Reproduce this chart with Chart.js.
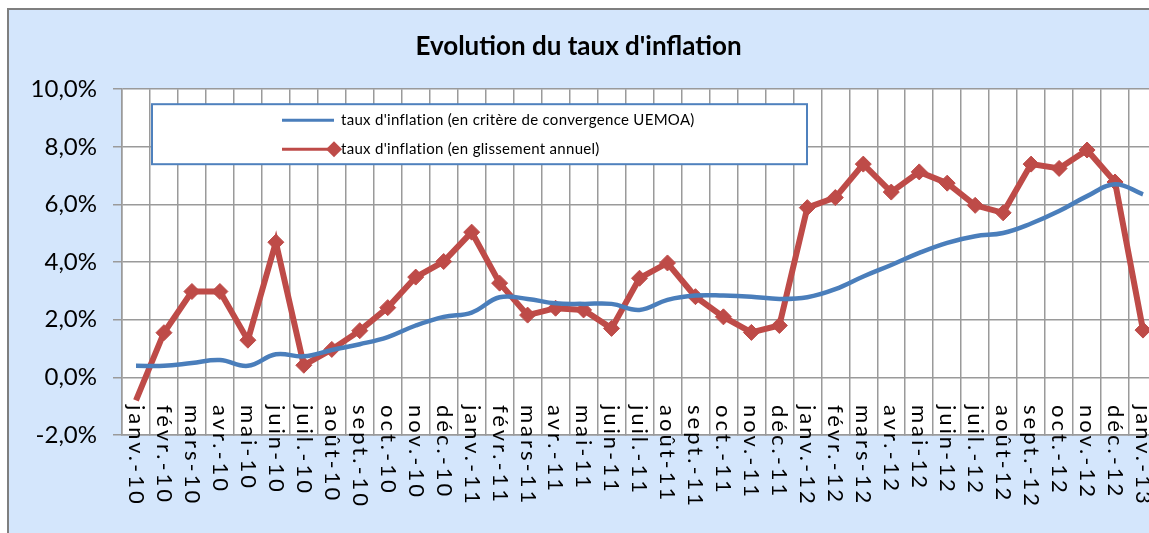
<!DOCTYPE html>
<html>
<head>
<meta charset="utf-8">
<script src="https://cdn.jsdelivr.net/npm/chart.js@4"></script>
<style>
  html, body { margin: 0; padding: 0; background: #fff; overflow: hidden; }
  #frame {
    position: absolute; left: 7px; top: 8px; width: 1200px; height: 600px;
    background: #d4e6fc; border-left: 2px solid #7f7f7f; border-top: 2px solid #7f7f7f;
  }
  #wrap { position: absolute; left: 0; top: 0; width: 1170px; height: 533px; }
</style>
</head>
<body>
<div id="frame"></div>
<div id="wrap"><canvas id="inflationChart"></canvas></div>
<script>
// categories: monthly, Jan 2010 to Jan 2013
const months = [
    'janv.-10', 'févr.-10', 'mars-10', 'avr.-10', 'mai-10', 'juin-10', 'juil.-10', 'août-10', 'sept.-10', 'oct.-10', 'nov.-10', 'déc.-10',
    'janv.-11', 'févr.-11', 'mars-11', 'avr.-11', 'mai-11', 'juin-11', 'juil.-11', 'août-11', 'sept.-11', 'oct.-11', 'nov.-11', 'déc.-11',
    'janv.-12', 'févr.-12', 'mars-12', 'avr.-12', 'mai-12', 'juin-12', 'juil.-12', 'août-12', 'sept.-12', 'oct.-12', 'nov.-12', 'déc.-12',
    'janv.-13'
];

// taux d'inflation (en critère de convergence UEMOA), %
const convergence = [
    0.4, 0.4, 0.5, 0.6, 0.4, 0.8, 0.73, 0.95, 1.15, 1.4, 1.8, 2.1,
    2.25, 2.78, 2.72, 2.57, 2.55, 2.55, 2.34, 2.69, 2.84, 2.84, 2.8, 2.72,
    2.78, 3.06, 3.5, 3.9, 4.32, 4.67, 4.9, 5.01, 5.34, 5.77, 6.29, 6.7,
    6.35
];

// taux d'inflation (en glissement annuel), %
const glissement = [
    -0.8, 1.55, 2.98, 2.98, 1.29, 4.69, 0.42, 0.97, 1.62, 2.42, 3.48, 4.02,
    5.04, 3.27, 2.16, 2.4, 2.34, 1.7, 3.44, 3.97, 2.8, 2.1, 1.56, 1.8,
    5.89, 6.24, 7.4, 6.43, 7.13, 6.74, 5.97, 5.71, 7.4, 7.25, 7.89, 6.78,
    1.64
];

const yMin = -2;
const yMax = 10;
const yStep = 2;

const FONT = 'Lato, "Open Sans", sans-serif';

function formatPct(v) {
    return v.toFixed(1).replace('.', ',') + '%';
}

// white plot area
const plotBackground = {
    id: 'plotBackground',
    beforeDraw(chart) {
        const { ctx, chartArea } = chart;
        ctx.save();
        ctx.fillStyle = '#ffffff';
        ctx.fillRect(chartArea.left, chartArea.top, chartArea.right - chartArea.left, chartArea.bottom - chartArea.top);
        ctx.restore();
    }
};

// legend box inside the plot, like the Excel one
const insideLegend = {
    id: 'insideLegend',
    afterDatasetsDraw(chart) {
        const { ctx, chartArea } = chart;
        const left = chartArea.left + 30;
        const top = chartArea.top + 15;
        const w = 655, h = 60;
        ctx.save();
        ctx.fillStyle = '#ffffff';
        ctx.fillRect(left, top, w, h);
        ctx.strokeStyle = '#4f81bd';
        ctx.lineWidth = 2;
        ctx.strokeRect(left, top, w, h);

        ctx.font = '15px ' + FONT;
        if ('letterSpacing' in ctx) ctx.letterSpacing = '0.3px';
        ctx.textBaseline = 'middle';
        ctx.textAlign = 'left';
        chart.data.datasets.forEach((ds, i) => {
            const y = top + 16 + i * 29;
            const x0 = left + 130, x1 = left + 182;
            ctx.strokeStyle = ds.borderColor;
            ctx.lineWidth = 3;
            ctx.beginPath();
            ctx.moveTo(x0, y);
            ctx.lineTo(x1, y);
            ctx.stroke();
            if (ds.pointStyle === 'rectRot') {
                ctx.fillStyle = ds.borderColor;
                ctx.beginPath();
                ctx.moveTo(x1, y - 8);
                ctx.lineTo(x1 + 8, y);
                ctx.lineTo(x1, y + 8);
                ctx.lineTo(x1 - 8, y);
                ctx.closePath();
                ctx.fill();
            }
            ctx.fillStyle = '#000000';
            ctx.fillText(ds.label, left + 189, y);
        });
        ctx.restore();
    }
};

// x labels rotated clockwise, starting a little above the axis
const rotatedLabels = {
    id: 'rotatedLabels',
    afterDraw(chart) {
        const { ctx, chartArea } = chart;
        const xScale = chart.scales.x;
        ctx.save();
        ctx.font = '22px ' + FONT;
        ctx.fillStyle = '#000000';
        ctx.textAlign = 'left';
        ctx.textBaseline = 'middle';
        if ('letterSpacing' in ctx) ctx.letterSpacing = '3px';
        chart.data.labels.forEach((lab, i) => {
            const x = xScale.getPixelForValue(i);
            ctx.save();
            ctx.translate(x, chartArea.bottom - 30);
            ctx.rotate(Math.PI / 2);
            ctx.fillText(lab, 0, 0);
            ctx.restore();
        });
        ctx.restore();
    }
};

const ctx = document.getElementById('inflationChart').getContext('2d');
new Chart(ctx, {
    type: 'line',
    data: {
        labels: months,
        datasets: [{
            label: "taux d'inflation (en critère de convergence UEMOA)",
            data: convergence,
            borderColor: '#4a7ebb',
            borderWidth: 4.5,
            pointRadius: 0,
            tension: 0.4
        }, {
            label: "taux d'inflation (en glissement annuel)",
            data: glissement,
            borderColor: '#be4b48',
            backgroundColor: '#be4b48',
            borderWidth: 6,
            pointStyle: 'rectRot',
            pointRadius: (c) => c.dataIndex === 0 ? 0 : 8,
            pointBackgroundColor: '#be4b48',
            pointBorderColor: '#be4b48',
            pointBorderWidth: 1,
            tension: 0
        }]
    },
    options: {
        responsive: true,
        maintainAspectRatio: false,
        animation: false,
        layout: {
            padding: { top: 18, right: 13, bottom: 0, left: 0 }
        },
        plugins: {
            legend: { display: false },
            tooltip: { enabled: false },
            title: {
                display: true,
                text: "Evolution du taux d'inflation",
                color: '#000000',
                font: { family: FONT, size: 26, weight: 'bold' },
                padding: { top: 13, bottom: 27 }
            }
        },
        scales: {
            x: {
                offset: true,
                grid: { offset: true, color: '#9a9a9a', lineWidth: 1.5, tickLength: 0 },
                border: { color: '#9a9a9a', width: 1.5 },
                ticks: { display: false },
                afterFit(scale) { scale.height = 98; }
            },
            y: {
                min: yMin,
                max: yMax,
                grid: { color: '#9a9a9a', lineWidth: 1.5, tickLength: 9 },
                border: { color: '#9a9a9a', width: 1.5 },
                ticks: {
                    stepSize: yStep,
                    padding: 16,
                    color: '#000000',
                    font: { family: FONT, size: 24 },
                    callback: (v) => formatPct(v)
                },
                afterFit(scale) { scale.width = 122; }
            }
        }
    },
    plugins: [plotBackground, insideLegend, rotatedLabels]
});
</script>
</body>
</html>
